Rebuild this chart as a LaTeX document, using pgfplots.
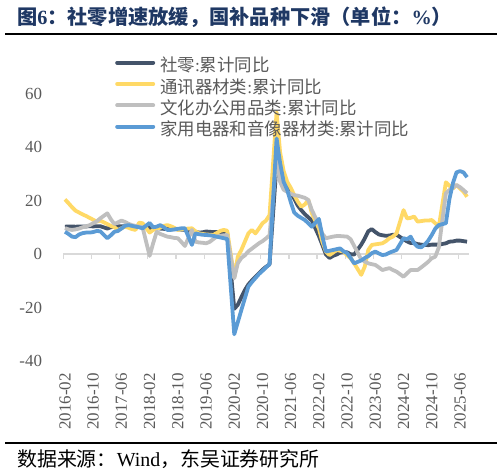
\documentclass[border=0pt]{standalone}
\usepackage{pgfplots}
\pgfplotsset{compat=1.18}
\usepackage{fontspec}
\setmainfont{Liberation Serif}
\newfontfamily\cjk{Noto Sans CJK SC}

\definecolor{snavy}{HTML}{44546A}
\definecolor{syellow}{HTML}{FFD966}
\definecolor{sgray}{HTML}{BFBFBF}
\definecolor{sblue}{HTML}{5B9BD5}
\definecolor{titleblue}{HTML}{1F3864}
\definecolor{labgray}{HTML}{595959}
\definecolor{zline}{HTML}{D9D9D9}

\begin{document}
\begin{tikzpicture}
\useasboundingbox (0bp,0bp) rectangle (503bp,476bp);
% title and source
\node[anchor=base west, inner sep=0pt, text=titleblue, font=\fontsize{20.3}{22}\selectfont\bfseries]
  at (17bp,451.5bp) {{\cjk 图}6{\cjk ：社零增速放缓，国补品种下滑（单位：}\%{\cjk ）}};
\draw[line width=1.4bp] (5bp,442bp) -- (497bp,442bp);
\draw[line width=1.4bp] (5bp,33bp) -- (497bp,33bp);
\node[anchor=base west, inner sep=0pt, font=\fontsize{20}{22}\selectfont]
  at (17bp,10bp) {{\cjk 数据来源：}Wind{\cjk ，东吴证券研究所}};

\begin{axis}[
  at={(63.2bp,115bp)}, anchor=south west,
  scale only axis, width=405.6bp, height=267.5bp,
  xmin=-0.5, xmax=114.5, ymin=-40, ymax=60,
  axis line style={draw=none},
  major tick length=0pt,
  clip=false,
  ytick={-40,-20,0,20,40,60},
  yticklabels={-40,-20,0,20,40,60},
  xtick={0,8,...,112},
  xticklabels={2016-02,2016-10,2017-06,2018-02,2018-10,2019-06,2020-02,2020-10,
    2021-06,2022-02,2022-10,2023-06,2024-02,2024-10,2025-06},
  tick label style={text=labgray, font=\fontsize{17}{20}\selectfont},
  yticklabel style={anchor=east, inner sep=0pt, xshift=-21bp},
  xticklabel style={yshift=-12bp, rotate=90, anchor=east, inner sep=0pt},
  legend cell align=left,
  legend style={at={(axis description cs:0.1277,1.128)}, anchor=north west,
    draw=none, fill=none, inner sep=0pt, row sep=5.8bp,
    font=\fontsize{17.5}{20}\selectfont, text=labgray,
    nodes={inner sep=0pt, text height=12.5bp, text depth=3bp},
    /tikz/every odd column/.append style={column sep=5bp}},
  legend image code/.code={\draw[line width=4bp, line cap=round] (2bp,4.5bp) -- (38bp,4.5bp);},
  every axis plot/.append style={line width=3.8bp, line join=round, no marks},
]
\draw[zline, line width=1.3bp] (axis cs:-0.5,0) -- (axis cs:114.5,0);
\pgfplotsinvokeforeach{-0.5,7.5,15.5,23.5,31.5,39.5,47.5,55.5,63.5,71.5,79.5,87.5,95.5,103.5,111.5}{
  \draw[zline, line width=1.3bp] (axis cs:#1,0) -- ++(0pt,-5bp);
}

% 社零:累计同比
\addplot[snavy] coordinates {
 (0,10.2)(1,10.3)(2,10.3)(3,10.2)(4,10.3)(5,10.3)(6,10.3)(7,10.4)(8,10.3)(9,10.4)(10,10.4)
 (12,9.5)(13,10.0)(14,10.2)(15,10.3)(16,10.4)(17,10.4)(18,10.4)(19,10.4)(20,10.3)(21,10.3)(22,10.2)
 (24,9.7)(25,9.8)(26,9.7)(27,9.5)(28,9.4)(29,9.3)(30,9.3)(31,9.3)(32,9.2)(33,9.1)(34,9.0)
 (36,8.2)(37,8.3)(38,8.0)(39,8.1)(40,8.4)(41,8.3)(42,8.2)(43,8.2)(44,8.1)(45,8.0)(46,8.0)
 (48,-20.5)(49,-19.0)(50,-16.2)(51,-13.5)(52,-11.4)(53,-9.9)(54,-8.6)(55,-7.2)(56,-5.9)(57,-4.8)(58,-3.9)
 (60,33.8)(61,33.9)(62,29.6)(63,25.7)(64,23.0)(65,20.7)(66,18.1)(67,16.4)(68,14.9)(69,13.7)(70,12.5)
 (72,6.7)(73,3.3)(74,-0.2)(75,-1.5)(76,-0.7)(77,-0.2)(78,0.5)(79,0.7)(80,0.6)(81,-0.1)(82,-0.2)
 (84,3.5)(85,5.8)(86,8.5)(87,9.3)(88,8.2)(89,7.3)(90,7.0)(91,6.8)(92,6.9)(93,7.2)(94,7.2)
 (96,5.5)(97,4.7)(98,4.1)(99,4.1)(100,3.7)(101,3.5)(102,3.4)(103,3.3)(104,3.5)(105,3.5)(106,3.5)
 (108,4.0)(109,4.6)(110,4.7)(111,5.0)(112,5.0)(113,4.8)(114,4.6)
};
\addlegendentry{{\cjk 社零}:{\cjk 累计同比}}

% 通讯器材类:累计同比
\addplot[syellow] coordinates {
 (0,20.4)(1,19.0)(2,17.5)(3,16.2)(4,15.5)(5,14.8)(6,14.2)(7,13.5)(8,12.8)(9,12.1)(10,12.5)
 (12,11.2)(13,10.5)(14,10.0)(15,9.0)(16,9.6)(17,10.2)(18,9.8)(19,9.3)(20,9.0)(21,11.7)(22,11.5)
 (24,8.0)(25,9.0)(26,9.6)(27,9.8)(28,10.5)(29,10.8)(30,10.4)(31,9.8)(32,9.0)(33,9.2)(34,9.4)
 (36,9.6)(37,8.5)(38,7.7)(39,7.5)(40,7.3)(41,7.2)(42,7.1)(43,7.8)(44,8.6)(45,9.0)(46,8.7)
 (48,-8.8)(49,-1.0)(50,1.5)(51,4.6)(52,7.7)(53,9.0)(54,7.7)(55,9.5)(56,11.5)(57,12.5)(58,14.5)
 (60,53.0)(61,38.0)(62,31.0)(63,27.0)(64,24.8)(65,22.0)(66,19.6)(67,17.7)(68,18.5)(69,20.2)(70,15.2)
 (72,9.5)(73,4.5)(74,0.9)(75,-0.4)(76,0.5)(77,1.5)(78,1.2)(79,0.9)(80,-0.5)(81,-1.6)(82,-3.5)
 (84,-7.8)(85,-4.7)(86,1.5)(87,3.4)(88,3.6)(89,3.8)(90,4.0)(91,4.8)(92,5.9)(93,6.5)(94,7.7)
 (96,16.4)(97,13.3)(98,13.5)(99,14.0)(100,12.1)(101,12.3)(102,12.5)(103,12.5)(104,12.7)(105,11.5)(106,10.2)
 (108,26.8)(109,25.5)(110,24.5)(111,25.8)(112,24.5)(113,23.3)(114,21.4)
};
\addlegendentry{{\cjk 通讯器材类}:{\cjk 累计同比}}

% 文化办公用品类:累计同比
\addplot[sgray] coordinates {
 (0,9.7)(1,9.2)(2,9.0)(3,9.2)(4,9.5)(5,10.0)(6,10.3)(7,10.8)(8,11.5)(9,12.2)(10,13.3)
 (12,15.2)(13,13.0)(14,11.2)(15,11.8)(16,12.5)(17,12.0)(18,11.3)(19,10.8)(20,10.5)(21,10.2)(22,10.0)
 (24,-0.7)(25,4.0)(26,8.3)(27,7.5)(28,7.0)(29,6.5)(30,6.3)(31,6.0)(32,5.9)(33,4.5)(34,3.0)
 (36,9.0)(37,4.6)(38,4.3)(39,4.2)(40,4.0)(41,4.5)(42,5.5)(43,6.5)(44,6.8)(45,7.0)(46,7.1)
 (48,-9.1)(49,-3.5)(50,-1.5)(51,-0.5)(52,1.0)(53,2.0)(54,3.0)(55,4.0)(56,4.8)(57,5.8)(58,7.0)
 (60,36.0)(61,27.0)(62,24.0)(63,23.3)(64,22.5)(65,22.0)(66,21.8)(67,21.4)(68,21.0)(69,20.2)(70,16.4)
 (72,11.0)(73,7.5)(74,5.9)(75,6.2)(76,6.5)(77,6.7)(78,6.7)(79,6.6)(80,6.5)(81,5.5)(82,3.0)
 (84,-2.0)(85,-2.8)(86,-3.5)(87,-3.8)(88,-4.1)(89,-5.0)(90,-6.0)(91,-5.6)(92,-5.3)(93,-6.0)(94,-6.6)
 (96,-8.5)(97,-7.2)(98,-6.0)(99,-6.0)(100,-6.0)(101,-5.0)(102,-4.0)(103,-2.9)(104,-1.6)(105,-1.0)(106,2.5)
 (108,22.7)(109,23.9)(110,24.8)(111,25.8)(112,25.0)(113,23.9)(114,22.7)
};
\addlegendentry{{\cjk 文化办公用品类}:{\cjk 累计同比}}

% 家用电器和音像器材类:累计同比
\addplot[sblue] coordinates {
 (0,8.3)(1,7.5)(2,6.5)(3,6.3)(4,7.3)(5,7.8)(6,8.0)(7,8.0)(8,8.2)(9,8.6)(10,8.5)
 (12,5.9)(13,7.0)(14,8.3)(15,8.6)(16,9.5)(17,10.5)(18,10.8)(19,10.5)(20,10.2)(21,10.0)(22,9.6)
 (24,11.6)(25,10.0)(26,10.2)(27,10.8)(28,10.0)(29,9.0)(30,9.0)(31,9.2)(32,9.4)(33,9.6)(34,9.6)
 (36,3.4)(37,7.7)(38,7.4)(39,7.2)(40,7.1)(41,7.0)(42,6.8)(43,6.5)(44,6.2)(45,5.9)(46,5.6)
 (48,-30.0)(49,-25.5)(50,-21.0)(51,-16.6)(52,-12.2)(53,-10.5)(54,-9.0)(55,-7.5)(56,-6.3)(57,-5.0)(58,-3.8)
 (60,43.2)(61,34.0)(62,27.0)(63,24.0)(64,19.5)(65,15.5)(66,14.3)(67,13.5)(68,12.7)(69,11.5)(70,10.2)
 (72,13.1)(73,6.5)(74,0.9)(75,1.2)(76,1.5)(77,1.8)(78,2.1)(79,1.0)(80,0.3)(81,-1.5)(82,-3.5)
 (84,-2.4)(85,-1.5)(86,-0.8)(87,0.3)(88,0.9)(89,0.2)(90,-0.4)(91,-0.2)(92,0.5)(93,1.0)(94,1.5)
 (96,5.9)(97,5.5)(98,6.5)(99,4.0)(100,2.7)(101,2.5)(102,3.5)(103,5.0)(104,7.1)(105,9.5)(106,10.8)
 (108,11.5)(109,20.5)(110,26.5)(111,30.5)(112,31.0)(113,30.5)(114,28.7)
};
\addlegendentry{{\cjk 家用电器和音像器材类}:{\cjk 累计同比}}
\end{axis}
\end{tikzpicture}
\end{document}
